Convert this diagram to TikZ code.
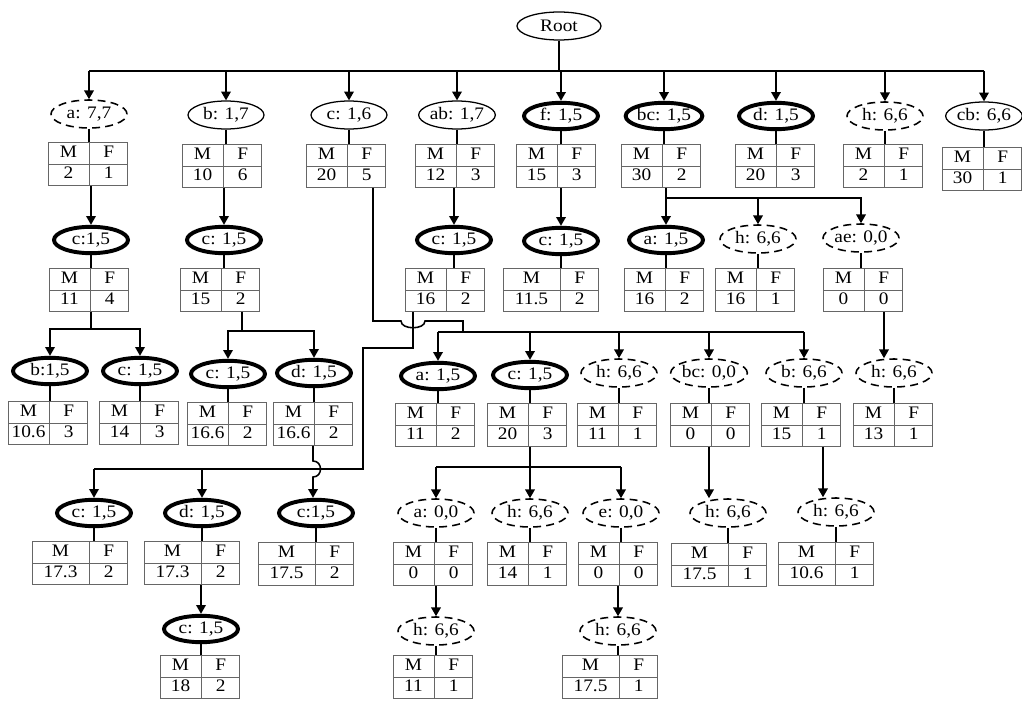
\documentclass[tikz,border=0pt]{standalone}
\usepackage{fontspec}
\setmainfont[FakeStretch=1.1]{Liberation Serif}
\usepackage{colortbl}
\usetikzlibrary{arrows.meta,shapes.geometric}
\setlength{\tabcolsep}{0pt}
\newcommand{\mf}[2]{\begin{tabular}{c|c}\makebox[10.2mm]{M}&\makebox[9.6mm]{F}\\\hline\makebox[10.2mm]{#1}&\makebox[9.6mm]{#2}\end{tabular}}
\newcommand{\mfw}[2]{\begin{tabular}{c|c}\makebox[14.2mm]{M}&\makebox[9.6mm]{F}\\\hline\makebox[14.2mm]{#1}&\makebox[9.6mm]{#2}\end{tabular}}
\arrayrulecolor{black!60}
\renewcommand{\arraystretch}{1.03}

\begin{document}
\begin{tikzpicture}[x=0.25mm,y=-0.25mm,itemset/.style={ellipse,draw,line width=0.9pt,minimum width=19mm,minimum height=7mm,inner sep=0pt,font=\fontsize{12.5}{14.5}\selectfont},strongset/.style={itemset,line width=2.8pt,minimum width=18.5mm,minimum height=6.6mm},weakset/.style={itemset,dash pattern=on 2mm off 1.3mm,line width=1.1pt},counts/.style={draw=black!60,line width=0.7pt,inner sep=0pt,font=\fontsize{12.5}{14.5}\selectfont},link/.style={line width=1.1pt},down/.style={link,-{Triangle[width=2.4mm,length=2.2mm]}}]
\useasboundingbox (0,0) rectangle (1022,701);
\coordinate (bus0) at (0,71);
\coordinate (bus1) at (0,198);
\coordinate (bus2) at (0,329);
\coordinate (bus3) at (0,331);
\coordinate (bus4a) at (0,321);
\coordinate (bus4) at (0,332);
\coordinate (bus5) at (0,469);
\coordinate (bus6) at (0,467);
\coordinate (c1k) at (463,0);
\coordinate (ab2k) at (363,348);
% root and first row
\node[itemset,minimum width=21mm] (root) at (559,26) {Root};
\node[weakset] (a1) at (89,114) {a: 7,7};
\node[counts] (ta1) at (88,164) {\mf{2}{1}};
\node[itemset] (b1) at (226,115) {b: 1,7};
\node[counts] (tb1) at (222,166) {\mf{10}{6}};
\node[itemset] (c1) at (349,115) {c: 1,6};
\node[counts] (tc1) at (346,166) {\mf{20}{5}};
\node[itemset] (ab1) at (457,115) {ab: 1,7};
\node[counts] (tab1) at (455,166) {\mf{12}{3}};
\node[strongset] (f1) at (561,116) {f: 1,5};
\node[counts] (tf1) at (556,166) {\mf{15}{3}};
\node[strongset] (bc1) at (664,116) {bc: 1,5};
\node[counts] (tbc1) at (661,166) {\mf{30}{2}};
\node[strongset] (d1) at (776,116) {d: 1,5};
\node[counts] (td1) at (775,166) {\mf{20}{3}};
\node[weakset] (h1) at (885,116) {h: 6,6};
\node[counts] (th1) at (883,166) {\mf{2}{1}};
\node[itemset] (cb1) at (984,116) {cb: 6,6};
\node[counts] (tcb1) at (982,169) {\mf{30}{1}};
% second row
\node[strongset] (a2) at (91,240) {c:1,5};
\node[counts] (ta2) at (89,290) {\mf{11}{4}};
\node[strongset] (b2) at (224,240) {c: 1,5};
\node[counts] (tb2) at (220,290) {\mf{15}{2}};
\node[strongset] (ab2) at (454,240) {c: 1,5};
\node[counts] (tab2) at (445,290) {\mf{16}{2}};
\node[strongset] (f2) at (561,241) {c: 1,5};
\node[counts] (tf2) at (551,290) {\mfw{11.5}{2}};
\node[strongset] (bc2a) at (666,240) {a: 1,5};
\node[counts] (tbc2a) at (664,290) {\mf{16}{2}};
\node[weakset] (bc2h) at (758,239) {h: 6,6};
\node[counts] (tbc2h) at (755,290) {\mf{16}{1}};
\node[weakset] (bc2e) at (861,238) {ae: 0,0};
\node[counts] (tbc2e) at (863,290) {\mf{0}{0}};
% third row
\node[strongset] (a3b) at (50,371) {b:1,5};
\node[counts] (ta3b) at (48,423) {\mf{10.6}{3}};
\node[strongset] (a3c) at (140,371) {c: 1,5};
\node[counts] (ta3c) at (139,423) {\mf{14}{3}};
\node[strongset] (b3c) at (228,374) {c: 1,5};
\node[counts] (tb3c) at (227,424) {\mf{16.6}{2}};
\node[strongset] (b3d) at (314,373) {d: 1,5};
\node[counts] (tb3d) at (313,424) {\mf{16.6}{2}};
\node[strongset] (c3a) at (438,376) {a: 1,5};
\node[counts] (tc3a) at (435,425) {\mf{11}{2}};
\node[strongset] (c3c) at (530,375) {c: 1,5};
\node[counts] (tc3c) at (527,425) {\mf{20}{3}};
\node[weakset] (c3h) at (619,373) {h: 6,6};
\node[counts] (tc3h) at (617,425) {\mf{11}{1}};
\node[weakset] (c3bc) at (709,373) {bc: 0,0};
\node[counts] (tc3bc) at (710,425) {\mf{0}{0}};
\node[weakset] (c3b) at (804,373) {b: 6,6};
\node[counts] (tc3b) at (801,425) {\mf{15}{1}};
\node[weakset] (ae3h) at (894,373) {h: 6,6};
\node[counts] (tae3h) at (893,425) {\mf{13}{1}};
% fourth row
\node[strongset] (ab4c) at (94,513) {c: 1,5};
\node[counts] (tab4c) at (80,563) {\mfw{17.3}{2}};
\node[strongset] (ab4d) at (202,513) {d: 1,5};
\node[counts] (tab4d) at (192,563) {\mfw{17.3}{2}};
\node[strongset] (d4c) at (316,513) {c:1,5};
\node[counts] (td4c) at (306,564) {\mfw{17.5}{2}};
\node[weakset] (c4a) at (436,513) {a: 0,0};
\node[counts] (tc4a) at (433,564) {\mf{0}{0}};
\node[weakset] (c4h) at (530,513) {h: 6,6};
\node[counts] (tc4h) at (527,564) {\mf{14}{1}};
\node[weakset] (c4e) at (621,513) {e: 0,0};
\node[counts] (tc4e) at (618,564) {\mf{0}{0}};
\node[weakset] (bc4h) at (728,513) {h: 6,6};
\node[counts] (tbc4h) at (719,565) {\mfw{17.5}{1}};
\node[weakset] (b4h) at (836,512) {h: 6,6};
\node[counts] (tb4h) at (826,564) {\mfw{10.6}{1}};
% fifth row
\node[strongset] (d5c) at (201,629) {c: 1,5};
\node[counts] (td5c) at (200,677) {\mf{18}{2}};
\node[weakset] (a5h) at (436,631) {h: 6,6};
\node[counts] (ta5h) at (433,677) {\mf{11}{1}};
\node[weakset] (e5h) at (618,631) {h: 6,6};
\node[counts] (te5h) at (610,677) {\mfw{17.5}{1}};
% itemset to its counts
\draw[link] (a1) -- (a1 |- ta1.north);
\draw[link] (b1) -- (b1 |- tb1.north);
\draw[link] (c1) -- (c1 |- tc1.north);
\draw[link] (ab1) -- (ab1 |- tab1.north);
\draw[link] (f1) -- (f1 |- tf1.north);
\draw[link] (bc1) -- (bc1 |- tbc1.north);
\draw[link] (d1) -- (d1 |- td1.north);
\draw[link] (h1) -- (h1 |- th1.north);
\draw[link] (cb1) -- (cb1 |- tcb1.north);
\draw[link] (a2) -- (a2 |- ta2.north);
\draw[link] (b2) -- (b2 |- tb2.north);
\draw[link] (ab2) -- (ab2 |- tab2.north);
\draw[link] (f2) -- (f2 |- tf2.north);
\draw[link] (bc2a) -- (bc2a |- tbc2a.north);
\draw[link] (bc2h) -- (bc2h |- tbc2h.north);
\draw[link] (bc2e) -- (bc2e |- tbc2e.north);
\draw[link] (a3b) -- (a3b |- ta3b.north);
\draw[link] (a3c) -- (a3c |- ta3c.north);
\draw[link] (b3c) -- (b3c |- tb3c.north);
\draw[link] (b3d) -- (b3d |- tb3d.north);
\draw[link] (c3a) -- (c3a |- tc3a.north);
\draw[link] (c3c) -- (c3c |- tc3c.north);
\draw[link] (c3h) -- (c3h |- tc3h.north);
\draw[link] (c3bc) -- (c3bc |- tc3bc.north);
\draw[link] (c3b) -- (c3b |- tc3b.north);
\draw[link] (ae3h) -- (ae3h |- tae3h.north);
\draw[link] (ab4c) -- (ab4c |- tab4c.north);
\draw[link] (ab4d) -- (ab4d |- tab4d.north);
\draw[link] (d4c) -- (d4c |- td4c.north);
\draw[link] (c4a) -- (c4a |- tc4a.north);
\draw[link] (c4h) -- (c4h |- tc4h.north);
\draw[link] (c4e) -- (c4e |- tc4e.north);
\draw[link] (bc4h) -- (bc4h |- tbc4h.north);
\draw[link] (b4h) -- (b4h |- tb4h.north);
\draw[link] (d5c) -- (d5c |- td5c.north);
\draw[link] (a5h) -- (a5h |- ta5h.north);
\draw[link] (e5h) -- (e5h |- te5h.north);
% root to first row
\draw[link] (root) -- (root |- bus0);
\draw[link] (a1 |- bus0) -- (cb1 |- bus0);
\draw[down] (a1 |- bus0) -- (a1);
\draw[down] (b1 |- bus0) -- (b1);
\draw[down] (c1 |- bus0) -- (c1);
\draw[down] (ab1 |- bus0) -- (ab1);
\draw[down] (f1 |- bus0) -- (f1);
\draw[down] (bc1 |- bus0) -- (bc1);
\draw[down] (d1 |- bus0) -- (d1);
\draw[down] (h1 |- bus0) -- (h1);
\draw[down] (cb1 |- bus0) -- (cb1);
% first row to second row
\draw[down] (a2 |- ta1.south) -- (a2);
\draw[down] (b2 |- tb1.south) -- (b2);
\draw[down] (ab2 |- tab1.south) -- (ab2);
\draw[down] (f2 |- tf1.south) -- (f2);
\draw[down] (bc2a |- tbc1.south) -- (bc2a);
\draw[down] (bc2a |- bus1) -| (bc2h);
\draw[down] (bc2a |- bus1) -| (bc2e);
% second row to third row
\draw[link] (a2 |- ta2.south) -- (a2 |- bus2);
\draw[down] (a2 |- bus2) -| (a3b);
\draw[down] (a2 |- bus2) -| (a3c);
\coordinate (b2o) at ([xshift=5.5mm]tb2.south);
\draw[link] (b2o) -- (b2o |- bus3);
\draw[down] (b2o |- bus3) -| (b3c);
\draw[down] (b2o |- bus3) -| (b3d);
\coordinate (c1o) at ([xshift=6.75mm]tc1.south);
\coordinate (ab2o) at ([xshift=-8mm]tab2.south);
\coordinate (x1) at (ab2o |- bus4a);
\draw[link] (c1o) |- ([xshift=-3mm]x1) .. controls +(0,9) and +(0,9) .. ([xshift=3mm]x1) -| (c1k |- bus4);
\draw[link] (c3a |- bus4) -- (c3b |- bus4);
\draw[down] (c3a |- bus4) -- (c3a);
\draw[down] (c3c |- bus4) -- (c3c);
\draw[down] (c3h |- bus4) -- (c3h);
\draw[down] (c3bc |- bus4) -- (c3bc);
\draw[down] (c3b |- bus4) -- (c3b);
\coordinate (bc2eo) at ([xshift=5.25mm]tbc2e.south);
\draw[down] (bc2eo) -- (bc2eo |- ae3h.north);
% second row to fourth row
\draw[link] (ab2o) |- (ab2k) |- (ab4c |- bus5);
\draw[down] (ab4c |- bus5) -- (ab4c);
\draw[down] (ab4d |- bus5) -- (ab4d);
% third row to fourth row
\coordinate (x2) at (tb3d.south |- bus5);
\draw[down] (tb3d.south) -- ([yshift=2mm]x2) .. controls +(10,0) and +(10,0) .. ([yshift=-2mm]x2) -- (tb3d.south |- d4c.north);
\draw[link] (c4a |- bus6) -- (c4e |- bus6);
\draw[down] (c4h |- tc3c.south) -- (c4h);
\draw[down] (c4a |- bus6) -- (c4a);
\draw[down] (c4e |- bus6) -- (c4e);
\draw[down] (c3bc |- tc3bc.south) -- (c3bc |- bc4h.north);
\coordinate (c3bo) at ([xshift=5.5mm]tc3b.south);
\draw[down] (c3bo) -- (c3bo |- b4h.north);
% fourth row to fifth row
\draw[down] (d5c |- tab4d.south) -- (d5c);
\draw[down] (a5h |- tc4a.south) -- (a5h);
\draw[down] (e5h |- tc4e.south) -- (e5h);
\end{tikzpicture}
\end{document}
